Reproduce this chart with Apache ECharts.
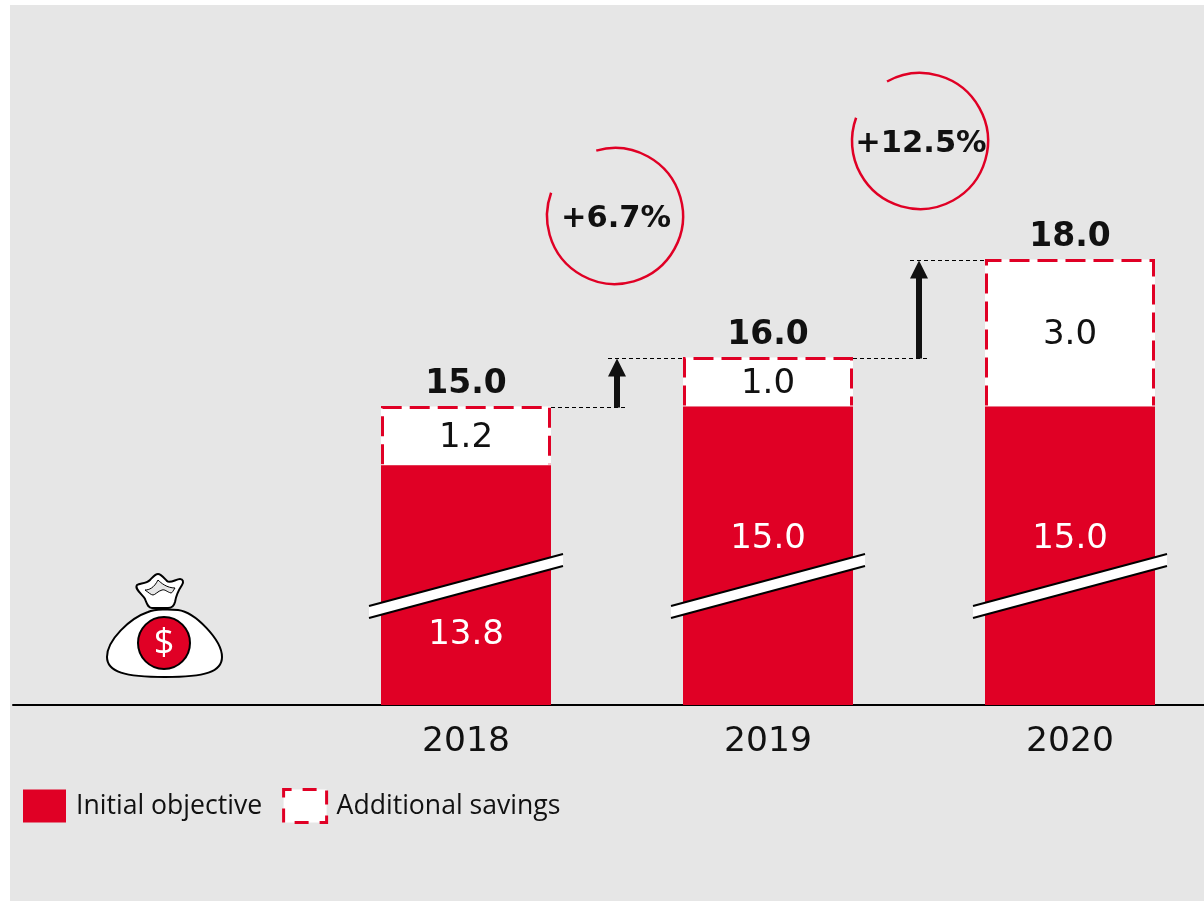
<!DOCTYPE html>
<html>
<head>
<meta charset="utf-8">
<title>Savings</title>
<style>
html,body{margin:0;padding:0;background:#fff;}
#main{width:1204px;height:901px;}
</style>
<script src="https://cdn.jsdelivr.net/npm/echarts@6/dist/echarts.min.js"></script>
</head>
<body>
<div id="main"></div>
<script>
// first category is empty, the money bag sits there
var categories = ['', '2018', '2019', '2020'];
var initialObjective = [null, 13.8, 15.0, 15.0];
var additionalSavings = [null, 1.2, 1.0, 3.0];
var totals = [null, 15.0, 16.0, 18.0];
var growth = ['+6.7%', '+12.5%'];
var breakLevel = 11.34;

var RED = '#e00025';
var INK = '#111111';
var FONT = '"DejaVu Sans", sans-serif';
var BAR_W = 170;

function fmt(p){
	var v = p.value != null && p.value.value !== undefined ? p.value.value : p.value;
	return v == null ? '' : (+v).toFixed(1);
}

// white slanted strip across a bar, marks the cut in the value axis
function renderBreak(params, api){
	var c = api.coord([api.value(0), api.value(1)]);
	var dx = 97, dy = 26, h = 6;
	return {
		type: 'group',
		children: [
			{type:'polygon', shape:{points:[[c[0]-dx,c[1]+dy-h],[c[0]+dx,c[1]-dy-h],[c[0]+dx,c[1]-dy+h],[c[0]-dx,c[1]+dy+h]]}, style:{fill:'#fff'}},
			{type:'line', shape:{x1:c[0]-dx,y1:c[1]+dy-h,x2:c[0]+dx,y2:c[1]-dy-h}, style:{stroke:'#000',lineWidth:2}},
			{type:'line', shape:{x1:c[0]-dx,y1:c[1]+dy+h,x2:c[0]+dx,y2:c[1]-dy+h}, style:{stroke:'#000',lineWidth:2}}
		]
	};
}

// dashed outline of the additional part, open at the bottom
function renderOutline(params, api){
	var low = api.coord([api.value(0), api.value(1)]);
	var top = api.coord([api.value(0), api.value(2)]);
	var l = low[0] - BAR_W / 2 + 1.5, r = low[0] + BAR_W / 2 - 1.5;
	return {
		type: 'polyline',
		shape: {points: [[l, low[1] - 1], [l, top[1] + 1], [r, top[1] + 1], [r, low[1] - 1]]},
		style: {fill: 'none', stroke: RED, lineWidth: 3, lineDash: [20, 8]}
	};
}

// dotted level lines and the arrow between two neighbouring totals
function renderStep(params, api){
	var from = api.coord([api.value(0), api.value(1)]);
	var to = api.coord([api.value(0), api.value(2)]);
	var x = from[0], y0 = Math.round(from[1]) + 0.5, y1 = Math.round(to[1]) + 0.5;
	var band = api.size([1, 0])[0];
	var ax = x + band / 2;
	var dash = {stroke:'#000',lineWidth:1,lineDash:[4,3]};
	return {
		type: 'group',
		children: [
			{type:'line', shape:{x1:x+85,y1:y0,x2:ax+8,y2:y0}, style:dash},
			{type:'line', shape:{x1:ax-9,y1:y1,x2:x+band-85,y2:y1}, style:dash},
			{type:'rect', shape:{x:ax-3,y:y1+16,width:6,height:y0-y1-16}, style:{fill:INK}},
			{type:'polygon', shape:{points:[[ax,y1],[ax+9,y1+18],[ax-9,y1+18]]}, style:{fill:INK}}
		]
	};
}

function growthRing(cx, cy, gapFrom, gapTo, text){
	return [
		{type:'arc', z:5, shape:{cx:cx,cy:cy,r:68,startAngle:gapFrom*Math.PI/180,endAngle:gapTo*Math.PI/180,clockwise:true}, style:{stroke:RED,fill:'none',lineWidth:2.5}},
		{type:'text', z:6, style:{x:cx+1,y:cy+3,text:text,align:'center',verticalAlign:'middle',fill:INK,font:'bold 30.5px '+FONT}}
	];
}

// money bag icon, page coordinates
function renderBag(){
	return {
		type: 'group',
		children: [
			{type:'path', shape:{pathData:'M148 612C130 618 107 640 107 657C107 672 125 677 165 677C205 677 222 672 222 657C222 640 195 612 178 610C170 609 155 609 148 612Z'}, style:{fill:'#fff',stroke:'#000',lineWidth:2}},
			{type:'path', shape:{pathData:'M137 585C140 583 146 584 150 580C153 577 155 574 158 574C161 574 164 578 167 581C170 584 176 579 180 579C183 579 184 582 182 585C178 591 176 596 175 602C174 606 172 608 168 608L152 608C148 608 147 604 145 599C143 595 134 589 137 585Z'}, style:{fill:'#fff',stroke:'#000',lineWidth:2}},
			{type:'path', shape:{pathData:'M145 590C149 590 154 588 158 580C161 583 167 588 175 588C173 591 172 593 171 593C167 592 165 589 162 590C158 591 155 595 153 595C151 595 148 592 145 590Z'}, style:{fill:'#e6e6e6',stroke:'#000',lineWidth:1}},
			{type:'circle', shape:{cx:164,cy:643,r:26}, style:{fill:RED,stroke:'#000',lineWidth:2}},
			{type:'text', style:{x:164,y:644,text:'$',align:'center',verticalAlign:'middle',fill:'#fff',font:'36px "Open Sans", sans-serif'}}
		]
	};
}

var option = {
	animation: false,
	backgroundColor: '#fff',
	grid: {left: 13, width: 1208, top: 65, bottom: 196, outerBoundsMode: 'none'},
	legend: {
		left: 23,
		top: 788,
		padding: 0,
		itemWidth: 43,
		itemHeight: 33,
		itemGap: 20,
		data: [
			{name: 'Initial objective', icon: 'rect'},
			{name: 'Additional savings', icon: 'rect', itemStyle: {color: '#fff', borderColor: RED, borderWidth: 3, borderType: [14, 11], borderDashOffset: 6}}
		],
		textStyle: {color: INK, fontSize: 26.6, fontFamily: '"Open Sans", sans-serif', padding: [2, 0, 0, 5]}
	},
	xAxis: {
		type: 'category',
		data: categories,
		axisTick: {show: false},
		axisLine: {onZero: false, lineStyle: {color: '#000', width: 2}},
		axisLabel: {interval: 0, color: INK, fontSize: 34.5, fontFamily: FONT, margin: 20}
	},
	yAxis: {type: 'value', min: 8.91, max: 21.97, show: false},
	graphic: [{type:'rect', z:-10, shape:{x:10,y:5,width:1194,height:896}, style:{fill:'#e6e6e6'}}]
		.concat(growthRing(615, 216, -106, -160, growth[0]))
		.concat(growthRing(920, 141, -119, -160, growth[1])),
	series: [
		{
			name: 'Initial objective',
			type: 'bar',
			stack: 'saving',
			z: 3,
			barWidth: BAR_W,
			data: initialObjective.map(function(v, i){
				// label goes under the cut for the shorter bar, above it for the rest
				return {value: v, label: {distance: i == 1 ? 53 : 149}};
			}),
			itemStyle: {color: RED},
			label: {show: true, position: 'insideBottom', formatter: fmt, color: '#fff', fontSize: 34, fontFamily: FONT}
		},
		{
			name: 'Additional savings',
			type: 'bar',
			stack: 'saving',
			z: 2,
			barWidth: BAR_W,
			data: additionalSavings,
			itemStyle: {color: '#fff'},
			label: {show: true, position: 'inside', offset: [0, 2], formatter: fmt, color: INK, fontSize: 34, fontFamily: FONT}
		},
		{
			type: 'scatter',
			z: 4,
			symbolSize: 0,
			itemStyle: {opacity: 1},
			data: totals,
			label: {show: true, position: 'top', distance: 6, formatter: fmt, color: INK, fontSize: 33, fontWeight: 'bold', fontFamily: FONT}
		},
		{
			type: 'custom',
			z: 3,
			renderItem: renderOutline,
			encode: {x: 0, y: [1, 2]},
			data: categories.slice(1).map(function(c, i){ return [c, initialObjective[i + 1], totals[i + 1]]; })
		},
		{
			type: 'custom',
			z: 5,
			renderItem: renderBreak,
			encode: {x: 0, y: 1},
			data: categories.slice(1).map(function(c){ return [c, breakLevel]; })
		},
		{
			type: 'custom',
			z: 1,
			renderItem: renderStep,
			encode: {x: 0, y: [1, 2]},
			data: [[categories[1], totals[1], totals[2]], [categories[2], totals[2], totals[3]]]
		},
		{
			type: 'custom',
			z: 5,
			renderItem: renderBag,
			data: [[0, breakLevel]]
		}
	]
};
var myChart = echarts.init(document.getElementById('main'));
myChart.setOption(option);
</script>
</body>
</html>
